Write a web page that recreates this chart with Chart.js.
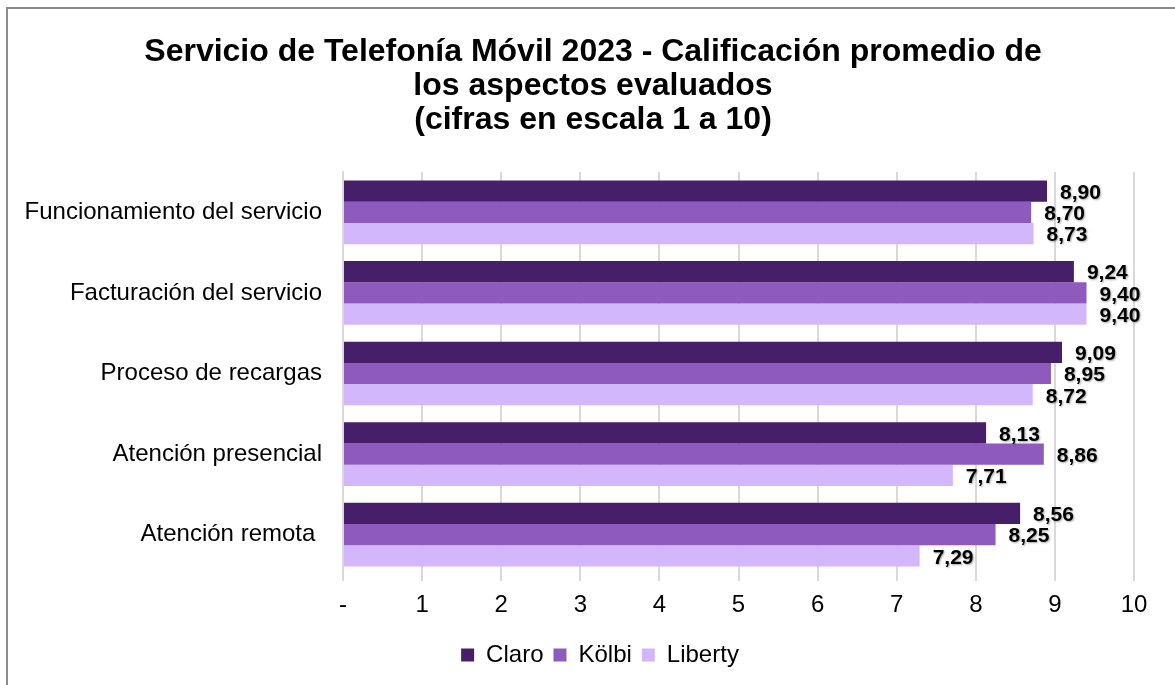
<!DOCTYPE html>
<html>
<head>
<meta charset="utf-8">
<script src="https://cdn.jsdelivr.net/npm/chart.js@4"></script>
<style>
  body { margin: 0; background: #fff; }
  #wrap { position: relative; width: 1175px; height: 685px; overflow: hidden; }
  #frame { position: absolute; left: 6px; top: 7px; width: 1200px; height: 700px; border: 2px solid #8c8c8c; }
  canvas { position: absolute; left: 0; top: 0; }
</style>
</head>
<body>
<div id="wrap">
  <div id="frame"></div>
  <canvas id="chart" width="1175" height="685"></canvas>
</div>
<script>
const categories = [
  'Funcionamiento del servicio',
  'Facturación del servicio',
  'Proceso de recargas',
  'Atención presencial',
  'Atención remota '
];
const claro = [8.90, 9.24, 9.09, 8.13, 8.56];
const kolbi = [8.70, 9.40, 8.95, 8.86, 8.25];
const liberty = [8.73, 9.40, 8.72, 7.71, 7.29];
const xTicks = ['-', '1', '2', '3', '4', '5', '6', '7', '8', '9', '10'];

const FONT = "Arial, 'Liberation Sans', sans-serif";

// value labels to the right of each bar
const valueLabels = {
  id: 'valueLabels',
  afterDatasetsDraw(chart) {
    const ctx = chart.ctx;
    ctx.save();
    ctx.font = 'bold 21px ' + FONT;
    ctx.fillStyle = '#000';
    ctx.textAlign = 'left';
    ctx.textBaseline = 'middle';
    ctx.shadowColor = 'rgba(0,0,0,0.35)';
    ctx.shadowBlur = 2;
    ctx.shadowOffsetX = 1;
    ctx.shadowOffsetY = 1;
    chart.data.datasets.forEach((ds, i) => {
      chart.getDatasetMeta(i).data.forEach((bar, j) => {
        const txt = ds.data[j].toFixed(2).replace('.', ',');
        ctx.fillText(txt, bar.x + 13, bar.y + 2);
      });
    });
    ctx.restore();
  }
};

// nudge title and legend a bit to the right, like the original
const boxShift = {
  id: 'boxShift',
  afterLayout(chart) {
    if (chart.titleBlock) chart.titleBlock.left += 42;
    if (chart.legend) chart.legend.left += 56;
  }
};

const ctx = document.getElementById('chart').getContext('2d');
new Chart(ctx, {
  type: 'bar',
  data: {
    labels: categories,
    datasets: [
      { label: 'Claro', data: claro, backgroundColor: '#471e6a' },
      { label: 'Kölbi', data: kolbi, backgroundColor: '#8e5abe' },
      { label: 'Liberty', data: liberty, backgroundColor: '#d3b7fd' }
    ]
  },
  options: {
    indexAxis: 'y',
    responsive: false,
    animation: false,
    categoryPercentage: 0.79,
    barPercentage: 1.0,
    layout: { padding: { left: 10, right: 41, top: 0, bottom: 8 } },
    plugins: {
      title: {
        display: true,
        text: [
          'Servicio de Telefonía Móvil 2023 - Calificación promedio de',
          'los aspectos evaluados',
          '(cifras en escala 1 a 10)'
        ],
        color: '#000',
        font: { family: FONT, size: 32, weight: 'bold', lineHeight: 1.0625 },
        padding: { top: 35, bottom: 35 }
      },
      legend: {
        position: 'bottom',
        labels: {
          color: '#000',
          font: { family: FONT, size: 24 },
          boxWidth: 13,
          boxHeight: 13,
          padding: 10
        }
      },
      tooltip: { enabled: false }
    },
    scales: {
      x: {
        min: 0,
        max: 10,
        ticks: {
          stepSize: 1,
          color: '#000',
          font: { family: FONT, size: 24 },
          padding: 10,
          callback: (v) => xTicks[v]
        },
        grid: { color: '#d9d9d9', lineWidth: 2, tickLength: 6 },
        border: { display: false },
        afterFit(scale) { scale.height = 58; }
      },
      y: {
        ticks: {
          color: '#000',
          font: { family: FONT, size: 24 },
          padding: 13
        },
        grid: { display: false },
        border: { color: '#d9d9d9', width: 2 },
        afterFit(scale) { scale.width = 333; }
      }
    }
  },
  plugins: [valueLabels, boxShift]
});
</script>
</body>
</html>
